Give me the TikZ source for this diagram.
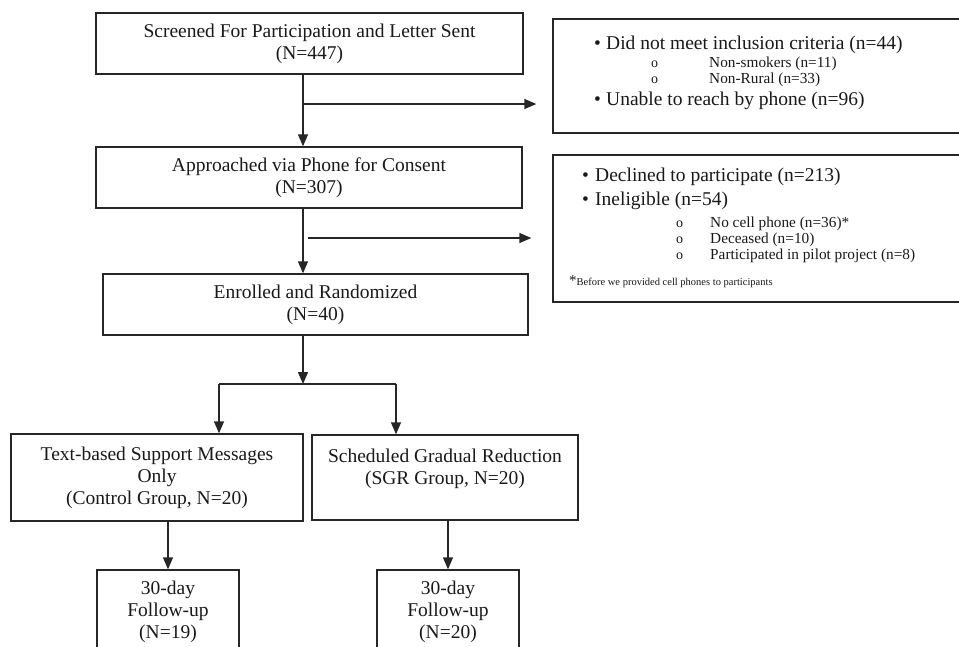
\documentclass[tikz,border=0pt]{standalone}
\usepackage{fontspec}
\setmainfont{Liberation Serif}
\usepackage{tikz}
\usetikzlibrary{arrows.meta}
\definecolor{linegray}{HTML}{262626}
\newcommand{\bul}[1]{\makebox[#1][l]{\textbullet}}
\newcommand{\subbul}[1]{\makebox[#1][l]{\fontsize{14}{14}\selectfont o}}

\begin{document}
\begin{tikzpicture}[x=1pt, y=-1pt,
    box/.style={draw=linegray, line width=1.4pt, align=center, inner sep=0pt, text=black!90,
      font=\fontsize{19.5}{22}\selectfont},
    sidebox/.style={draw=linegray, line width=1.4pt, inner sep=0pt},
    item/.style={anchor=base west, inner sep=0pt, text=black!90, font=\fontsize{19.5}{22}\selectfont},
    subitem/.style={anchor=base west, inner sep=0pt, text=black!90, font=\fontsize{15.3}{17}\selectfont},
    line/.style={draw=linegray, line width=1.4pt},
    arr/.style={line, -{Triangle[length=12pt, width=10pt]}}
]
  \useasboundingbox (0,0) rectangle (959,646);

  % Main flow
  \node[box, minimum width=427pt, minimum height=61pt] (screen) at (309.5,43.5) {Screened For Participation and Letter Sent\\(N=447)};
  \node[box, minimum width=426pt, minimum height=61pt] (phone) at (309,177.5) {Approached via Phone for Consent\\(N=307)};
  \node[box, minimum width=425pt, minimum height=61pt] (enrol) at (315.5,304.5) {Enrolled and Randomized\\(N=40)};

  % Study arms
  \node[box, minimum width=292pt, minimum height=87pt] (ctrl) at (157,477.5) {Text-based Support Messages\\Only\\(Control Group, N=20)};
  \node[box, minimum width=266pt, minimum height=85pt] (sgr) at (445,477.5) {Scheduled Gradual Reduction\\(SGR Group, N=20)\\\mbox{}};

  % Follow-up (runs off the bottom edge)
  \node[box, minimum width=142pt, minimum height=84pt] (fuctrl) at (168,612) {30-day\\Follow-up\\(N=19)};
  \node[box, minimum width=142pt, minimum height=84pt] (fusgr) at (448,612) {30-day\\Follow-up\\(N=20)};

  % Exclusion boxes (run off the right edge)
  \node[sidebox, minimum width=422pt, minimum height=114pt] (excl) at (764,76) {};
  \node[sidebox, minimum width=422pt, minimum height=147pt] (decl) at (764,228.5) {};

  \node[item] (exclA) at (594,49) {\bul{12pt}Did not meet inclusion criteria (n=44)};
  \node[subitem] (exclA1) at (651,67) {\subbul{58pt}Non-smokers (n=11)};
  \node[subitem] (exclA2) at (651,83) {\subbul{58pt}Non-Rural (n=33)};
  \node[item] (exclB) at (594,105) {\bul{12pt}Unable to reach by phone (n=96)};

  \node[item] (declA) at (582,181) {\bul{13pt}Declined to participate (n=213)};
  \node[item] (declB) at (582,205) {\bul{13pt}Ineligible (n=54)};
  \node[subitem] (declB1) at (676,227) {\subbul{34pt}No cell phone (n=36)*};
  \node[subitem] (declB2) at (676,243) {\subbul{34pt}Deceased (n=10)};
  \node[subitem] (declB3) at (676,259) {\subbul{34pt}Participated in pilot project (n=8)};
  \node[anchor=base west, inner sep=0pt, text=black!90] (note) at (569,285)
    {{\fontsize{15}{15}\selectfont *}{\fontsize{10.5}{12}\selectfont Before we provided cell phones to participants}};

  % Connectors
  \coordinate (spine) at (303,0);
  \coordinate (exit1) at (303,104);
  \coordinate (exit2) at (308,238);
  \coordinate (split) at (303,384);
  \coordinate (splitL) at (219,384);
  \coordinate (splitR) at (396,384);

  \draw[arr] (screen.south -| spine) -- (phone.north -| spine);
  \draw[arr, shorten >=16pt] (exit1) -- (exit1 -| excl.west);
  \draw[arr] (phone.south -| spine) -- (enrol.north -| spine);
  \draw[arr, shorten >=21pt] (exit2) -- (exit2 -| decl.west);
  \draw[arr] (enrol.south -| spine) -- (split);
  \draw[line] (splitL) -- (splitR);
  \draw[arr] (splitL) -- (splitL |- ctrl.north);
  \draw[arr] (splitR) -- (splitR |- sgr.north);
  \draw[arr] (ctrl.south -| fuctrl.north) -- (fuctrl.north);
  \draw[arr] (sgr.south -| fusgr.north) -- (fusgr.north);

\end{tikzpicture}
\end{document}
